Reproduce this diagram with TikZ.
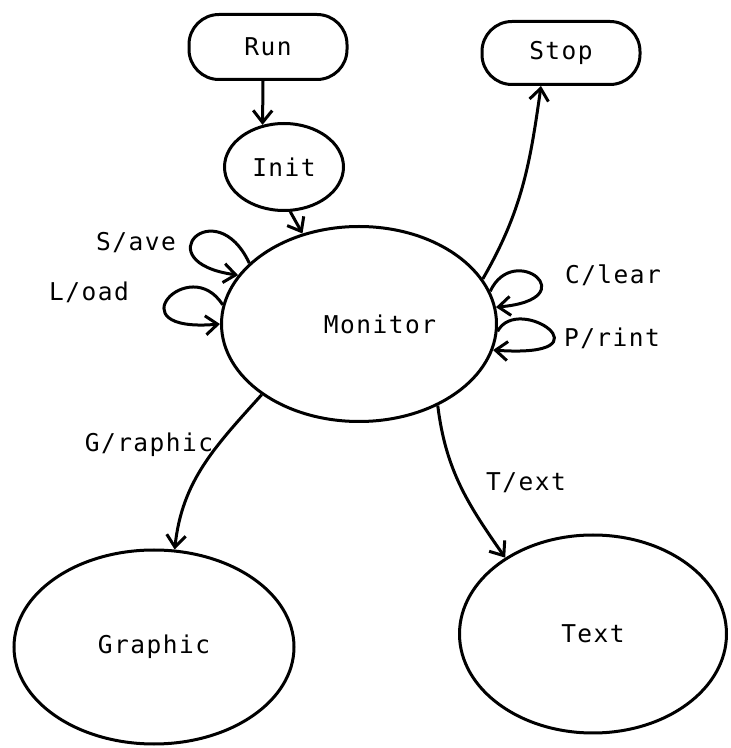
\documentclass[tikz,border=0pt]{standalone}
\usepackage{fontspec}
\newfontfamily\lpfont[LetterSpace=6]{DejaVu Sans Mono}
\usetikzlibrary{arrows.meta,shapes.geometric}

\begin{document}
\begin{tikzpicture} [
  x=1pt, y=1pt,
  ->,
  >={Straight Barb[length=12pt,width=19pt]},
  line width=3pt,
  every node/.style={font=\fontsize{24.5}{28}\selectfont\lpfont,inner sep=0pt},
  term node/.style={rectangle,draw,rounded corners=30pt,minimum width=158pt,minimum height=65pt},
  state node/.style={ellipse,draw},
  ]
  \useasboundingbox (0,0) rectangle (731,748);

  \node[term node] (run) at (268,701) {Run};
  \node[term node, minimum height=63pt] (stop) at (561,695) {Stop};
  \node[state node, minimum width=119pt, minimum height=87pt] (init) at (284,581) {Init};
  \node[state node, minimum width=275pt, minimum height=195pt,
    label={[xshift=21pt]center:Monitor}] (monitor) at (359,424) {};
  \node[state node, minimum width=280pt, minimum height=194pt] (graphic) at (154,101) {Graphic};
  \node[state node, minimum width=267pt, minimum height=198pt] (text) at (593,114) {Text};

  % labels
  \node (save) at (136,505) {S/ave};
  \node (load) at (89,456) {L/oad};
  \node (clear) at (613,473) {C/lear};
  \node (print) at (612,410) {P/rint};
  \node (graphiclab) at (149,303) {G/raphic};
  \node (textlab) at (526,265) {T/ext};

  \path
    ([xshift=-5pt]run.south) edge (init.117)
    (init.278)     edge                  (monitor.122)
    (monitor.20)   edge[out=60,in=262]   ([xshift=-20pt]stop.south)
    (monitor.216)  edge[out=228,in=84]   (graphic.78)
    (monitor.-46)  edge[out=-83,in=125]  (text.139);

  % self loops
  \draw (monitor.151) .. controls +(115:80) and +(172:95) .. (monitor.158);
  \draw (monitor.172) .. controls +(122:62) and +(185:108) .. (monitor.180);
  \draw (monitor.14) .. controls +(65:56) and +(5:92) .. (monitor.7);
  \draw (monitor.-3) .. controls +(62:44) and +(-4:122) .. (monitor.-11);
\end{tikzpicture}
\end{document}
